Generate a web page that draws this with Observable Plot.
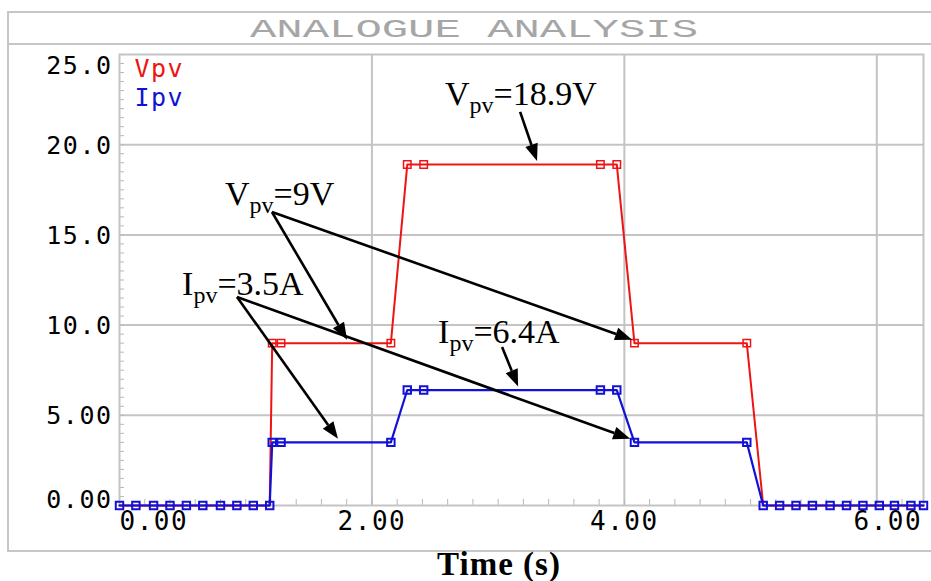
<!DOCTYPE html>
<html>
<head>
<meta charset="utf-8">
<script src="https://cdn.jsdelivr.net/npm/d3@7"></script>
<script src="https://cdn.jsdelivr.net/npm/@observablehq/plot@0.6"></script>
<style>
  html, body { margin: 0; padding: 0; background: #fff; }
  body { position: relative; width: 931px; height: 581px; overflow: hidden; }
  #frame { position: absolute; left: 7px; top: 11px; width: 960px; height: 541px;
           border: 2px solid #c6c6c6; box-sizing: border-box; }
  #titlebar { position: absolute; left: 8px; top: 12px; width: 940px; height: 33px;
              border-bottom: 2px solid #c6c6c6; box-sizing: border-box; }
  #title { position: absolute; left: 0; top: 0; }
  #chart { position: absolute; left: 0; top: 44px; }
  #xlabel { position: absolute; left: 0; top: 546px; width: 998px; text-align: center;
            font: bold 33px "Liberation Serif", serif; letter-spacing: 1px; color: #000; }
</style>
</head>
<body>
<div id="frame"></div>
<div id="titlebar"></div>
<svg id="title" width="931" height="44">
  <text x="474" y="37" text-anchor="middle" textLength="448" lengthAdjust="spacingAndGlyphs"
        fill="#a6a6a6" font-size="26" font-family="Liberation Mono">ANALOGUE ANALYSIS</text>
</svg>
<div id="chart"></div>
<div id="xlabel">Time (s)</div>
<script>
// Transient simulation samples: time (s), PV voltage (V) and PV current (A)
const time = [0, 0.13, 0.27, 0.40, 0.53, 0.66, 0.80, 0.93, 1.06, 1.19,
              1.21, 1.28, 2.15, 2.28, 2.41, 3.81, 3.94, 4.08, 4.97,
              5.10, 5.23, 5.36, 5.49, 5.63, 5.76, 5.89, 6.02, 6.14, 6.27, 6.37];
const vpv  = [0, 0, 0, 0, 0, 0, 0, 0, 0, 0,
              9, 9, 9, 18.9, 18.9, 18.9, 18.9, 9, 9,
              0, 0, 0, 0, 0, 0, 0, 0, 0, 0, 0];
const ipv  = [0, 0, 0, 0, 0, 0, 0, 0, 0, 0,
              3.5, 3.5, 3.5, 6.4, 6.4, 6.4, 6.4, 3.5, 3.5,
              0, 0, 0, 0, 0, 0, 0, 0, 0, 0, 0];

// Axis ticks and their printed labels
const xTicks = [0, 2, 4, 6];
const xTickLabels = ["0.00", "2.00", "4.00", "6.00"];
const yTicks = [0, 5, 10, 15, 20, 25];
const yTickLabels = ["0.00", "5.00", "10.0", "15.0", "20.0", "25.0"];

// Series names
const seriesNames = ["Vpv", "Ipv"];

// Callouts: label parts, label anchor (t, value), arrow tails/tips (t, value)
const calloutMain = ["V", "V", "I", "I"];
const calloutTail = ["=18.9V", "=9V", "=3.5A", "=6.4A"];
const calloutAt   = [[2.583, 22.17], [0.84, 16.63], [0.50, 11.64], [2.528, 8.98]];
const calloutFrom = [[3.178, 21.79], [1.212, 16.24], [0.935, 11.53], [3.035, 8.76]];
const calloutTips = [[[3.312, 18.9]], [[1.807, 9], [4.065, 9]], [[1.735, 3.5], [4.05, 3.5]], [[3.162, 6.4]]];

const RED = "#ee1414", BLUE = "#1212d6", GRID = "#c4c4c4";
const vData = time.map((t, i) => ({t, v: vpv[i]}));
const iData = time.map((t, i) => ({t, v: ipv[i]}));
const xMinor = d3.range(0, 6.37, 0.2);
const yMinor = d3.range(0, 25.01, 0.5);
const mono = "DejaVu Sans Mono";

const plot = Plot.plot({
  width: 931,
  height: 506,
  marginLeft: 119,
  marginRight: 8,
  marginTop: 10,
  marginBottom: 45,
  x: {domain: [0, 6.37], axis: null},
  y: {domain: [0, 25], axis: null},
  style: {fontFamily: mono, background: "transparent", overflow: "visible", letterSpacing: "1.5px"},
  marks: [
    Plot.ruleX(xTicks.slice(1), {stroke: GRID, strokeWidth: 2}),
    Plot.ruleY(yTicks.slice(1, -1), {stroke: GRID, strokeWidth: 2}),
    Plot.axisX({ticks: xMinor, tickSize: -6, stroke: "#b8b8b8", tickFormat: () => "", label: null}),
    Plot.axisY({ticks: yMinor, tickSize: -5, stroke: "#b8b8b8", tickFormat: () => "", label: null}),
    Plot.frame({stroke: GRID, strokeWidth: 2}),
    // red series; its markers on the zero stretch are covered by the blue ones
    Plot.line(vData, {x: "t", y: "v", stroke: RED, strokeWidth: 2}),
    Plot.dot(vData, {x: "t", y: "v", filter: d => d.v > 0, symbol: "square", r: 4.2,
      stroke: RED, strokeWidth: 1.5, fill: "none"}),
    Plot.line(iData, {x: "t", y: "v", stroke: BLUE, strokeWidth: 2.2}),
    Plot.dot(iData, {x: "t", y: "v", symbol: "square", r: 4.2, stroke: BLUE, strokeWidth: 2, fill: "none"}),
    // y tick labels: the extreme ones are held inside the frame
    Plot.text([yTicks.length - 1], {y: i => yTicks[i], text: i => yTickLabels[i], frameAnchor: "left",
      textAnchor: "end", lineAnchor: "top", dx: -7, dy: 2, fontSize: 25, fill: "#000"}),
    Plot.text(d3.range(1, yTicks.length - 1), {y: i => yTicks[i], text: i => yTickLabels[i], frameAnchor: "left",
      textAnchor: "end", dx: -7, dy: 1, fontSize: 25, fill: "#000"}),
    Plot.text([0], {y: i => yTicks[i], text: i => yTickLabels[i], frameAnchor: "left",
      textAnchor: "end", lineAnchor: "bottom", dx: -7, dy: 2, fontSize: 25, fill: "#000"}),
    // x tick labels
    Plot.text([0], {x: i => xTicks[i], text: i => xTickLabels[i], frameAnchor: "bottom",
      textAnchor: "start", lineAnchor: "top", dy: 6, fontSize: 26, fill: "#000"}),
    Plot.text([1, 2], {x: i => xTicks[i], text: i => xTickLabels[i], frameAnchor: "bottom",
      textAnchor: "middle", lineAnchor: "top", dy: 6, fontSize: 26, fill: "#000"}),
    Plot.text([3], {x: i => xTicks[i], text: i => xTickLabels[i], frameAnchor: "bottom",
      textAnchor: "middle", lineAnchor: "top", dx: 11, dy: 6, fontSize: 26, fill: "#000"}),
    // series legend
    Plot.text([seriesNames[0]], {frameAnchor: "top-left", lineAnchor: "top", dx: 15, dy: 5, fontSize: 25, fill: RED}),
    Plot.text([seriesNames[1]], {frameAnchor: "top-left", lineAnchor: "top", dx: 15, dy: 34, fontSize: 25, fill: BLUE})
  ]
});

document.getElementById("chart").append(plot);

// Callout labels with subscripts and solid arrowheads, placed through the plot scales
const sx = plot.scale("x"), sy = plot.scale("y");
const svg = d3.select(plot);
const g = svg.append("g").attr("class", "callouts")
  .attr("text-anchor", "start").attr("letter-spacing", 0);
calloutMain.forEach((m, k) => {
  const [lt, lv] = calloutAt[k];
  const txt = g.append("text")
    .attr("x", sx.apply(lt)).attr("y", sy.apply(lv))
    .attr("font-family", "Liberation Serif, serif").attr("font-size", 34).attr("fill", "#000");
  txt.append("tspan").text(m);
  txt.append("tspan").attr("font-size", 24).attr("dy", 8).text("pv");
  txt.append("tspan").attr("dy", -8).text(calloutTail[k]);

  const [ft, fv] = calloutFrom[k];
  const x0 = sx.apply(ft), y0 = sy.apply(fv);
  calloutTips[k].forEach(([tt, tv]) => {
    const x1 = sx.apply(tt), y1 = sy.apply(tv) - 3;
    const dx = x1 - x0, dy = y1 - y0, len = Math.hypot(dx, dy);
    const ux = dx / len, uy = dy / len;
    const headL = 17, headW = 6.5;
    const bx = x1 - ux * headL, by = y1 - uy * headL;
    g.append("line").attr("x1", x0).attr("y1", y0).attr("x2", bx).attr("y2", by)
      .attr("stroke", "#000").attr("stroke-width", 2.6);
    g.append("path")
      .attr("d", `M${x1},${y1}L${bx - uy * headW},${by + ux * headW}L${bx + uy * headW},${by - ux * headW}Z`)
      .attr("fill", "#000");
  });
});
</script>
</body>
</html>
